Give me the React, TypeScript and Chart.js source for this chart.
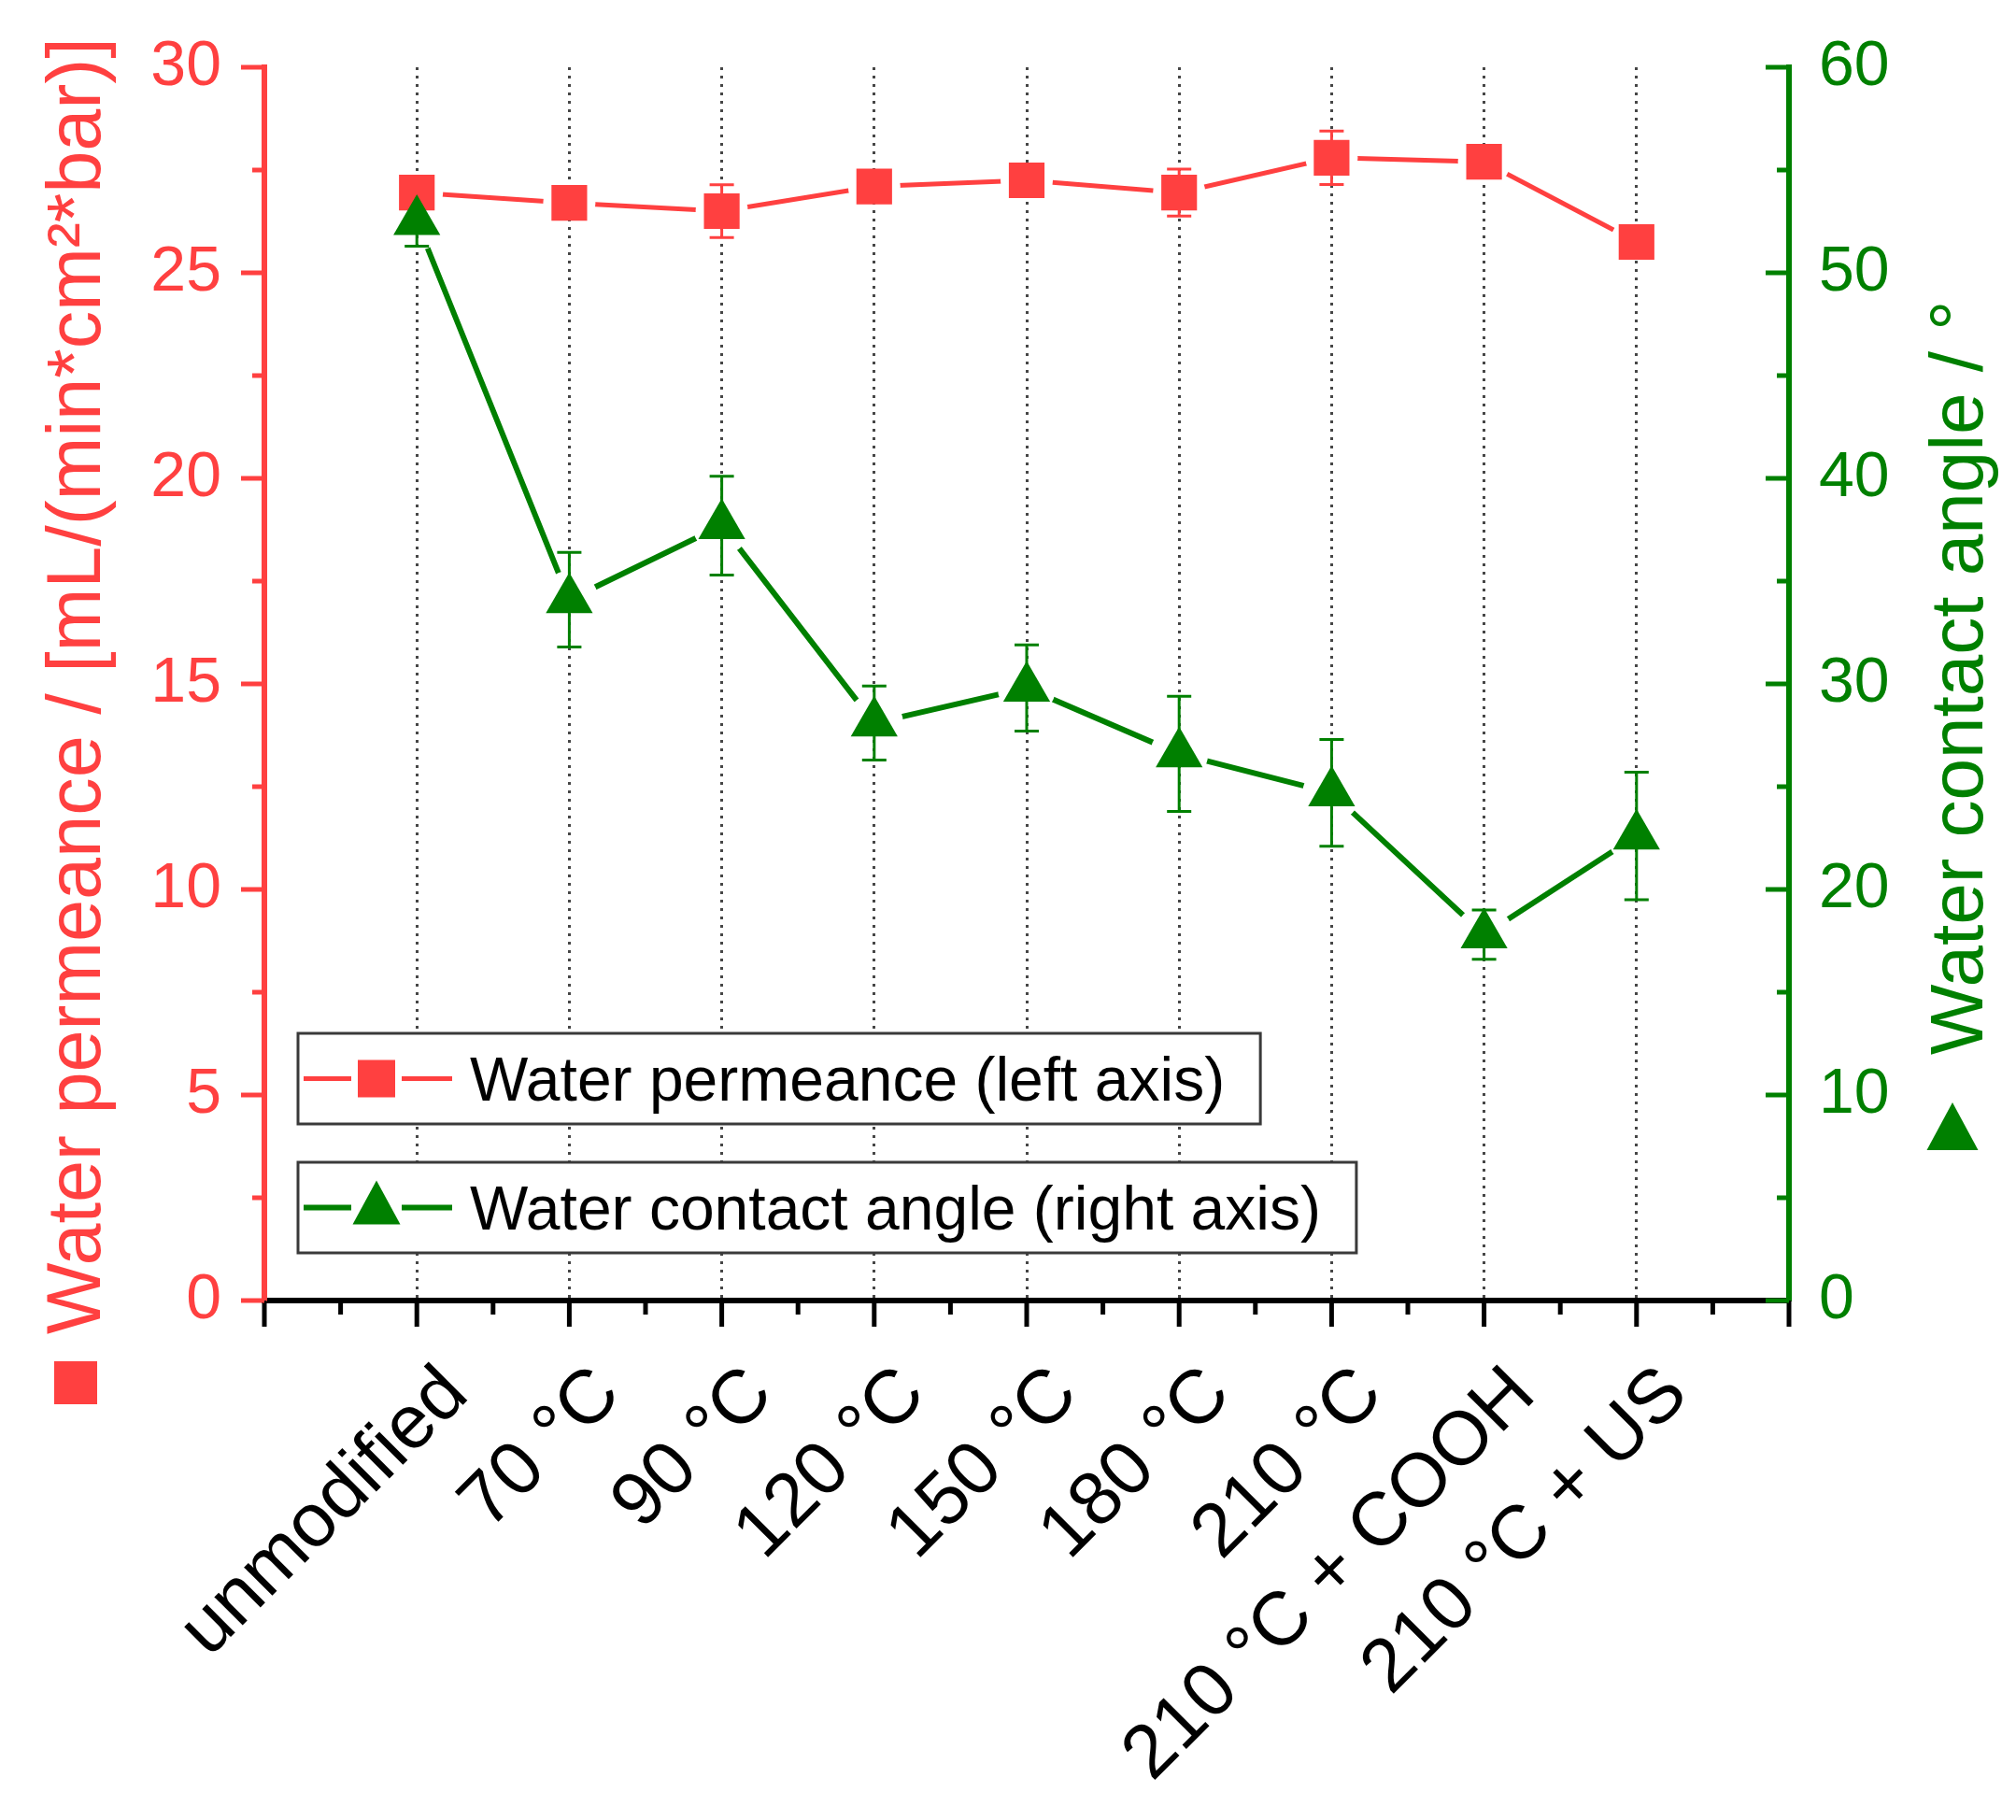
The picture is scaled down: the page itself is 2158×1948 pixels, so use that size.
import { useEffect, useRef } from 'react'
import { Chart, registerables } from 'chart.js'
import type { Plugin } from 'chart.js'

Chart.register(...registerables)

// samples on the x axis
const categories = ['unmodified', '70 °C', '90 °C', '120 °C', '150 °C', '180 °C', '210 °C', '210 °C + COOH', '210 °C + US']

// water permeance, mL/(min*cm2*bar), left axis
const permeance = [26.95, 26.7, 26.5, 27.1, 27.25, 26.95, 27.8, 27.7, 25.75]
const permeanceErr = [0.3, 0.25, 0.64, 0.3, 0.3, 0.57, 0.65, 0.25, 0.25]

// water contact angle, degrees, right axis
const contactAngle = [52.5, 34.1, 37.7, 28.1, 29.8, 26.6, 24.7, 17.8, 22.6]
const contactAngleErr = [1.2, 2.3, 2.4, 1.8, 2.1, 2.8, 2.6, 1.2, 3.1]

const leftTitle = 'Water permeance / [mL/(min*cm²*bar)]'
const rightTitle = 'Water contact angle / °'
const legendLabels = ['Water permeance (left axis)', 'Water contact angle (right axis)']

const RED = '#ff4040'
const GREEN = '#008000'
const FONT = '"Liberation Sans", Arial, Helvetica, sans-serif'

Chart.defaults.font.family = FONT

function triangle(ctx: CanvasRenderingContext2D, cx: number, top: number, w: number, h: number) {
  ctx.beginPath()
  ctx.moveTo(cx, top)
  ctx.lineTo(cx + w / 2, top + h)
  ctx.lineTo(cx - w / 2, top + h)
  ctx.closePath()
  ctx.fill()
}

// error bars go under the lines and markers
const errorBars: Plugin<'line'> = {
  id: 'errorBars',
  beforeDatasetsDraw(chart) {
    const { ctx, scales } = chart
    const draw = (vals: number[], errs: number[], axis: string, color: string) => {
      const ys = scales[axis]
      ctx.save()
      ctx.strokeStyle = color
      ctx.lineWidth = 3
      vals.forEach((v, i) => {
        const x = scales.x.getPixelForValue(i)
        const top = ys.getPixelForValue(v + errs[i])
        const bot = ys.getPixelForValue(v - errs[i])
        ctx.beginPath()
        ctx.moveTo(x, top)
        ctx.lineTo(x, bot)
        ctx.moveTo(x - 13, top)
        ctx.lineTo(x + 13, top)
        ctx.moveTo(x - 13, bot)
        ctx.lineTo(x + 13, bot)
        ctx.stroke()
      })
      ctx.restore()
    }
    draw(permeance, permeanceErr, 'y', RED)
    draw(contactAngle, contactAngleErr, 'y1', GREEN)
  },
}

// Origin leaves a small gap between the connecting line and each symbol
const lineGaps: Plugin<'line'> = {
  id: 'lineGaps',
  beforeDatasetDraw(chart, args) {
    const gap = (chart.data.datasets[args.index] as any).gap as number | undefined
    if (!gap) return
    const { ctx } = chart
    ctx.save()
    ctx.beginPath()
    ctx.rect(0, 0, chart.width, chart.height)
    args.meta.data.forEach((pt) => {
      ctx.moveTo(pt.x + gap, pt.y)
      ctx.arc(pt.x, pt.y, gap, 0, Math.PI * 2)
    })
    ctx.clip('evenodd')
  },
  afterDatasetDraw(chart, args) {
    if ((chart.data.datasets[args.index] as any).gap) chart.ctx.restore()
  },
}

// major + minor tick marks (Origin style)
const axisTicks: Plugin<'line'> = {
  id: 'axisTicks',
  afterDraw(chart) {
    const { ctx, chartArea: a, scales } = chart
    const { x, y, y1 } = scales
    ctx.save()
    ctx.lineWidth = 5
    const seg = (xa: number, ya: number, xb: number, yb: number) => {
      ctx.beginPath()
      ctx.moveTo(xa, ya)
      ctx.lineTo(xb, yb)
      ctx.stroke()
    }
    ctx.strokeStyle = '#000'
    for (let v = -1; v <= 9; v += 0.5) {
      const px = x.getPixelForValue(v)
      seg(px, a.bottom, px, a.bottom + (v % 1 === 0 ? 28 : 15))
    }
    ctx.strokeStyle = RED
    for (let v = 0; v <= 30; v += 2.5) {
      const py = y.getPixelForValue(v)
      seg(a.left - (v % 5 === 0 ? 25 : 13), py, a.left, py)
    }
    ctx.strokeStyle = GREEN
    for (let v = 0; v <= 60; v += 5) {
      const py = y1.getPixelForValue(v)
      seg(a.right - (v % 10 === 0 ? 25 : 13), py, a.right, py)
    }
    ctx.restore()
  },
}

// axis titles and the two boxed legend entries
const decorations: Plugin<'line'> = {
  id: 'decorations',
  afterDraw(chart) {
    const { ctx, chartArea: a } = chart
    ctx.save()
    ctx.textAlign = 'left'
    ctx.textBaseline = 'alphabetic'

    ctx.font = `81px ${FONT}`
    ctx.save()
    ctx.translate(a.left - 176, a.bottom + 36)
    ctx.rotate(-Math.PI / 2)
    ctx.fillStyle = RED
    ctx.fillText(leftTitle, 0, 0)
    ctx.restore()
    ctx.fillStyle = RED
    ctx.fillRect(a.left - 225, a.bottom + 65, 46, 46)

    ctx.font = `80px ${FONT}`
    ctx.save()
    ctx.translate(a.right + 207, a.bottom - 263)
    ctx.rotate(-Math.PI / 2)
    ctx.fillStyle = GREEN
    ctx.fillText(rightTitle, 0, 0)
    ctx.restore()
    ctx.fillStyle = GREEN
    triangle(ctx, a.right + 175, a.bottom - 212, 55, 51)

    ctx.font = `66px ${FONT}`
    const entries = [
      { label: legendLabels[0], color: RED, width: 5 },
      { label: legendLabels[1], color: GREEN, width: 6 },
    ]
    entries.forEach((e, i) => {
      const left = a.left + 36
      const top = a.bottom - 286 + i * 138
      const h = 97
      const cy = top + h / 2
      const w = 184 + ctx.measureText(e.label).width + 38
      ctx.fillStyle = '#fff'
      ctx.fillRect(left, top, w, h)
      ctx.strokeStyle = '#3a3a3a'
      ctx.lineWidth = 3
      ctx.strokeRect(left, top, w, h)

      ctx.strokeStyle = e.color
      ctx.lineWidth = e.width
      ctx.beginPath()
      ctx.moveTo(left + 6, cy)
      ctx.lineTo(left + 57, cy)
      ctx.moveTo(left + 111, cy)
      ctx.lineTo(left + 165, cy)
      ctx.stroke()
      ctx.fillStyle = e.color
      if (i === 0) ctx.fillRect(left + 64, cy - 20, 40, 40)
      else triangle(ctx, left + 84, cy - 29, 51, 47)

      ctx.fillStyle = '#000'
      ctx.fillText(e.label, left + 184, cy + 23)
    })
    ctx.restore()
  },
}

export default function App() {
  const canvasRef = useRef<HTMLCanvasElement>(null)

  useEffect(() => {
    if (!canvasRef.current) return

    const permPoints = permeance.map((v, i) => ({ x: i, y: v }))
    const anglePoints = contactAngle.map((v, i) => ({ x: i, y: v }))

    const chart = new Chart(canvasRef.current, {
      type: 'line',
      data: {
        datasets: [
          {
            label: legendLabels[0],
            data: permPoints,
            yAxisID: 'y',
            borderColor: RED,
            borderWidth: 5,
            pointRadius: 0,
            gap: 28,
            order: 3,
          } as any,
          {
            label: legendLabels[0],
            data: permPoints,
            yAxisID: 'y',
            showLine: false,
            backgroundColor: RED,
            pointStyle: 'rect',
            pointRadius: 27,
            pointBorderWidth: 0,
            order: 2,
          },
          {
            label: legendLabels[1],
            data: anglePoints,
            yAxisID: 'y1',
            borderColor: GREEN,
            borderWidth: 6,
            pointRadius: 0,
            gap: 31,
            order: 1,
          } as any,
          {
            label: legendLabels[1],
            data: anglePoints,
            yAxisID: 'y1',
            showLine: false,
            backgroundColor: GREEN,
            pointStyle: 'triangle',
            pointRadius: 29,
            pointBorderWidth: 0,
            order: 0,
          },
        ],
      },
      options: {
        animation: false,
        responsive: true,
        maintainAspectRatio: false,
        layout: { padding: { top: 72, left: 0, right: 0, bottom: 0 } },
        plugins: { legend: { display: false }, tooltip: { enabled: false } },
        scales: {
          x: {
            type: 'linear',
            min: -1,
            max: 9,
            ticks: {
              stepSize: 1,
              autoSkip: false,
              minRotation: 45,
              maxRotation: 45,
              padding: 53,
              labelOffset: 42,
              color: '#000',
              font: { size: 81 },
              callback: (v) => categories[Math.round(Number(v))] ?? '',
            },
            grid: {
              drawTicks: false,
              lineWidth: 3,
              color: (c) => {
                const v = Math.round(Number(c.tick?.value))
                return v >= 0 && v <= 8 ? 'rgba(50,50,50,0.9)' : 'rgba(0,0,0,0)'
              },
            },
            border: { display: true, color: '#000', width: 6, dash: [3, 6] },
            afterFit: (s) => {
              s.height = 556
            },
          },
          y: {
            position: 'left',
            min: 0,
            max: 30,
            ticks: { stepSize: 5, color: RED, padding: 46, font: { size: 68 } },
            grid: { display: false, drawTicks: false },
            border: { display: true, color: RED, width: 6 },
            afterFit: (s) => {
              s.width = 283
              s.paddingTop = 0
              s.paddingBottom = 0
            },
          },
          y1: {
            position: 'right',
            min: 0,
            max: 60,
            ticks: { stepSize: 10, color: GREEN, padding: 32, font: { size: 68 } },
            grid: { display: false, drawTicks: false },
            border: { display: true, color: GREEN, width: 6 },
            afterFit: (s) => {
              s.width = 243
              s.paddingTop = 0
              s.paddingBottom = 0
            },
          },
        },
      },
      plugins: [errorBars, lineGaps, axisTicks, decorations],
    })

    return () => {
      chart.destroy()
    }
  }, [])

  return (
    <div style={{ position: 'fixed', left: 0, top: 0, width: 2158, height: 1948, background: '#fff' }}>
      <canvas ref={canvasRef} />
    </div>
  )
}
